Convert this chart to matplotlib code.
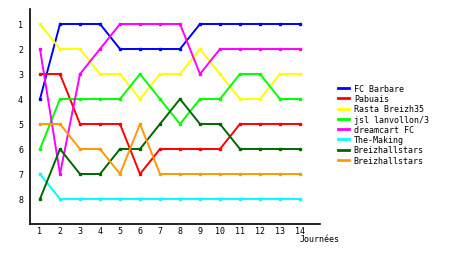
import matplotlib
matplotlib.use('Agg')
import matplotlib.pyplot as plt

# ranking per journee
journees = list(range(1, 15))
fc_barbare = [4, 1, 1, 1, 2, 2, 2, 2, 1, 1, 1, 1, 1, 1]
pabuais = [3, 3, 5, 5, 5, 7, 6, 6, 6, 6, 5, 5, 5, 5]
rasta_breizh35 = [1, 2, 2, 3, 3, 4, 3, 3, 2, 3, 4, 4, 3, 3]
jsl_lanvollon = [6, 4, 4, 4, 4, 3, 4, 5, 4, 4, 3, 3, 4, 4]
dreamcart_fc = [2, 7, 3, 2, 1, 1, 1, 1, 3, 2, 2, 2, 2, 2]
the_making = [7, 8, 8, 8, 8, 8, 8, 8, 8, 8, 8, 8, 8, 8]
breizhallstars_a = [8, 6, 7, 7, 6, 6, 5, 4, 5, 5, 6, 6, 6, 6]
breizhallstars_b = [5, 5, 6, 6, 7, 5, 7, 7, 7, 7, 7, 7, 7, 7]

teams = ['FC Barbare', 'Pabuais', 'Rasta Breizh35', 'jsl lanvollon/3',
         'dreamcart FC', 'The-Making', 'Breizhallstars', 'Breizhallstars']
series = [fc_barbare, pabuais, rasta_breizh35, jsl_lanvollon,
          dreamcart_fc, the_making, breizhallstars_a, breizhallstars_b]
colors = ['#0000ff', '#ff0000', '#ffff00', '#00ff00',
          '#ff00ff', '#00ffff', '#006600', '#ff9900']

plt.rcParams['font.family'] = 'DejaVu Sans Mono'
fs = 6

fig = plt.figure(figsize=(4.6, 2.55), dpi=100)
ax = fig.add_axes([30/460, 30/255, 290/460, 215/255])

for vals, name, c in zip(series, teams, colors):
    ax.plot(journees, vals, color=c, lw=1.4, marker='s', ms=2, label=name)

ax.set_xlim(0.5, 15)
ax.set_ylim(9, 0.4)
ax.set_xticks(journees)
ax.set_yticks(range(1, 9))
ax.tick_params(length=0, labelsize=fs, pad=5)
ax.tick_params(axis='x', pad=1.5)
for s in ['top', 'right']:
    ax.spines[s].set_visible(False)
for s in ['left', 'bottom']:
    ax.spines[s].set_linewidth(1.2)

fig.text(300/460, 1 - 240/255, 'Journées', fontsize=fs, va='center', ha='left')

ax.legend(loc='upper left', bbox_to_anchor=(338/460, 1 - 85/255),
          bbox_transform=fig.transFigure, frameon=False, fontsize=fs,
          handlelength=1.3, handletextpad=0.6, labelspacing=0.15,
          borderpad=0, borderaxespad=0)
for line in ax.get_legend().get_lines():
    line.set_marker('')
    line.set_linewidth(2)

fig.savefig('out.png', dpi=100)
